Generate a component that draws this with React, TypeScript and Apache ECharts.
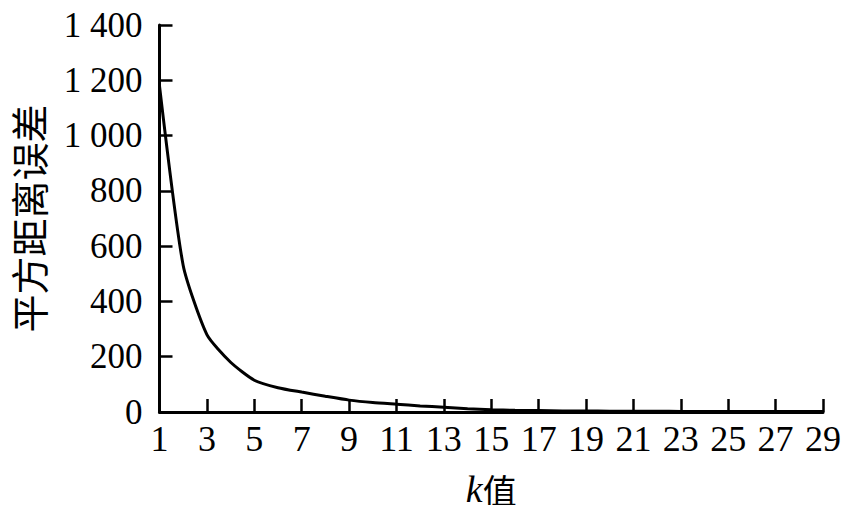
import React, { useEffect, useRef } from "react";
import * as echarts from "echarts";

const kValues = [1, 2, 3, 4, 5, 6, 7, 8, 9, 10, 11, 12, 13, 14, 15, 16, 17, 18, 19, 20, 21, 22, 23, 24, 25, 26, 27, 28, 29];
const sse = [1180, 530, 280, 180, 115, 88, 72, 57, 43, 34, 28, 22, 17, 12, 8, 6, 5, 4, 4, 3, 3, 3, 2, 2, 2, 2, 2, 2, 2];

const yTitle = "平方距离误差";
const xTitle = "k";
const xTitleSuffix = "值";

const FONT = "'Liberation Serif', 'Noto Sans CJK SC', serif";

export default function App() {
  const ref = useRef<HTMLDivElement>(null);
  useEffect(() => {
    if (!ref.current) return;
    const chart = echarts.init(ref.current, undefined, { renderer: "svg" });
    chart.setOption({
      animation: false,
      backgroundColor: "#ffffff",
      grid: { left: 159.5, right: 27, top: 25, bottom: 101, containLabel: false },
      xAxis: {
        type: "value",
        min: 1,
        max: 29,
        interval: 2,
        name: `{i|${xTitle}}{c|${xTitleSuffix}}`,
        nameLocation: "middle",
        nameGap: 58,
        nameTextStyle: {
          rich: {
            i: { fontFamily: "'Liberation Serif', serif", fontStyle: "italic", fontSize: 38, color: "#000" },
            c: { fontFamily: "'Noto Sans CJK SC', sans-serif", fontSize: 34, color: "#000" },
          },
        },
        axisLine: { show: true, lineStyle: { color: "#000", width: 3 } },
        axisTick: { show: true, inside: true, length: 13, lineStyle: { color: "#000", width: 2.5 } },
        axisLabel: { color: "#000", fontFamily: FONT, fontSize: 36, margin: 9 },
        splitLine: { show: false },
      },
      yAxis: {
        type: "value",
        min: 0,
        max: 1400,
        interval: 200,
        name: yTitle,
        nameLocation: "middle",
        nameRotate: 90,
        nameGap: 113,
        nameTextStyle: { color: "#000", fontFamily: "'Noto Sans CJK SC', serif", fontSize: 38 },
        axisLine: { show: true, lineStyle: { color: "#000", width: 3 } },
        axisTick: { show: true, inside: true, length: 13, lineStyle: { color: "#000", width: 2.5 } },
        axisLabel: {
          color: "#000",
          fontFamily: FONT,
          fontSize: 35,
          margin: 17,
          formatter: (v: number) => (v >= 1000 ? `${Math.floor(v / 1000)} ${String(v % 1000).padStart(3, "0")}` : String(v)),
        },
        splitLine: { show: false },
      },
      series: [
        {
          type: "line",
          data: kValues.map((k, i) => [k, sse[i]]),
          showSymbol: false,
          lineStyle: { color: "#000", width: 3 },
          smooth: 0.2,
        },
      ],
    });
    return () => chart.dispose();
  }, []);
  return <div ref={ref} style={{ width: 850, height: 513, margin: -8 }} />;
}
